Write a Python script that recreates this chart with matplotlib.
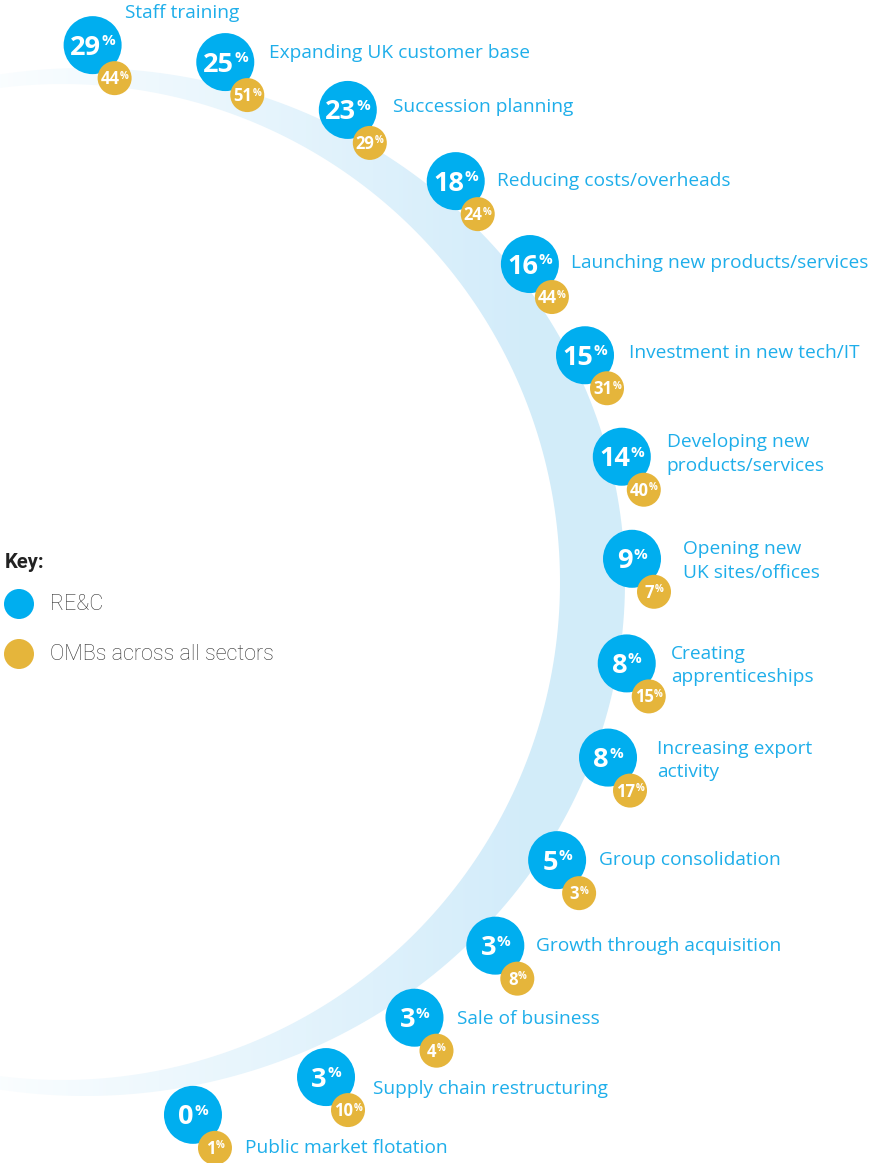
import matplotlib.pyplot as plt
import numpy as np
from matplotlib.patches import Circle, Polygon

# chart data
labels = ["Staff training", "Expanding UK customer base", "Succession planning",
          "Reducing costs/overheads", "Launching new products/services",
          "Investment in new tech/IT", "Developing new\nproducts/services",
          "Opening new\nUK sites/offices", "Creating\napprenticeships",
          "Increasing export\nactivity", "Group consolidation",
          "Growth through acquisition", "Sale of business",
          "Supply chain restructuring", "Public market flotation"]
rec_values = [29, 25, 23, 18, 16, 15, 14, 9, 8, 8, 5, 3, 3, 3, 0]
omb_values = [44, 51, 29, 24, 44, 31, 40, 7, 15, 17, 3, 8, 4, 10, 1]
key_labels = ["RE&C", "OMBs across all sectors"]

# layout along the arc: angle (degrees), radial scale, label offsets from blue circle
slot_angle = [88.7, 74.9, 61.3, 47.9, 36.3, 25.1, 13.7, 2.8, -8.4, -18.6,
              -30.7, -41.8, -53.1, -64.1, -78.3]
slot_r = [1.0, 1.003, 1.003, 1.008, 1.004, 1.003, 1.003, 0.994, 0.994, 1.002,
          0.998, 1.002, 1.002, 1.013, 1.002]
label_dx = [32, 44, 45, 41, 41, 44, 45, 51, 44, 49, 42, 41, 42, 47, 52]
label_dy = [-32, -9, -3, 0, -1, -2, -3, 2, 2, 3, 0, 0, 1, 12, 33]

BLUE = "#00aeef"
GOLD = "#e5b53b"
TEXT_BLUE = "#1eaeea"
W, H = 872, 1163

fig = plt.figure(figsize=(W / 100, H / 100), dpi=100)
ax = fig.add_axes([0, 0, 1, 1])
ax.set_xlim(0, W)
ax.set_ylim(H, 0)
ax.axis("off")

# crescent band behind the circles
t_out = np.radians(np.linspace(100, -100, 200))
t_in = np.radians(np.linspace(-98, 98, 200))
outer = np.column_stack([85 + 540 * np.cos(t_out), 582 - 514 * np.sin(t_out)])
inner = np.column_stack([62 + 498 * np.cos(t_in), 582 - 498 * np.sin(t_in)])
band = Polygon(np.vstack([outer, inner]), closed=True, facecolor="none", edgecolor="none")
ax.add_patch(band)

xs = np.linspace(0, W, 400)
frac = np.clip(xs / 520, 0, 1)
c0 = np.array([0.98, 0.993, 1.0])
c1 = np.array([0.827, 0.926, 0.98])
grad = (c0[None, :] * (1 - frac[:, None]) + c1[None, :] * frac[:, None])[None, :, :]
img = ax.imshow(grad, extent=[0, W, H, 0], aspect="auto", zorder=1)
img.set_clip_path(band)

renderer = fig.canvas.get_renderer()


def pct_text(cx, cy, value, size, pct_size, base_dy, pct_dy, gap):
    # number followed by a small raised % sign, centred on (cx, cy)
    t1 = ax.text(0, 0, str(value), fontsize=size, fontweight="bold", color="white",
                 family="Open Sans", ha="left", va="baseline", zorder=5)
    t2 = ax.text(0, 0, "%", fontsize=pct_size, fontweight="bold", color="white",
                 family="Open Sans", ha="left", va="baseline", zorder=5)
    w1 = t1.get_window_extent(renderer).width
    w2 = t2.get_window_extent(renderer).width
    left = cx - (w1 + gap + w2) / 2
    t1.set_position((left, cy + base_dy))
    t2.set_position((left + w1 + gap, cy + pct_dy))


cx0, cy0, rx, ry = 80, 585, 556, 540
for i, lab in enumerate(labels):
    a = np.radians(slot_angle[i])
    cx = cx0 + rx * slot_r[i] * np.cos(a)
    cy = cy0 - ry * slot_r[i] * np.sin(a)
    ax.add_patch(Circle((cx, cy), 29, facecolor=BLUE, edgecolor="none", zorder=3))
    gx, gy = cx + 22, cy + 33
    ax.add_patch(Circle((gx, gy), 17, facecolor=GOLD, edgecolor="none", zorder=4))
    pct_text(cx, cy, rec_values[i], 19.5, 11, 9.5, 0, 0.5)
    pct_text(gx, gy, omb_values[i], 12, 7, 6, 0.5, 0.3)
    ax.text(cx + label_dx[i], cy + label_dy[i], lab, fontsize=13.8, color=TEXT_BLUE,
            family="Open Sans", ha="left", va="center", linespacing=1.4, zorder=5)

# key
ax.text(5, 562, "Key:", fontsize=14.5, fontweight="bold", color="#222222",
        family="Roboto", ha="left", va="center")
for j, (col, lab) in enumerate(zip([BLUE, GOLD], key_labels)):
    y = 604 + 50 * j
    ax.add_patch(Circle((19, y), 15, facecolor=col, edgecolor="none", zorder=3))
    ax.text(50, y, lab, fontsize=15.5, color="#333333", family="Roboto",
            fontweight="light", ha="left", va="center")

fig.savefig("out.png", dpi=100)
